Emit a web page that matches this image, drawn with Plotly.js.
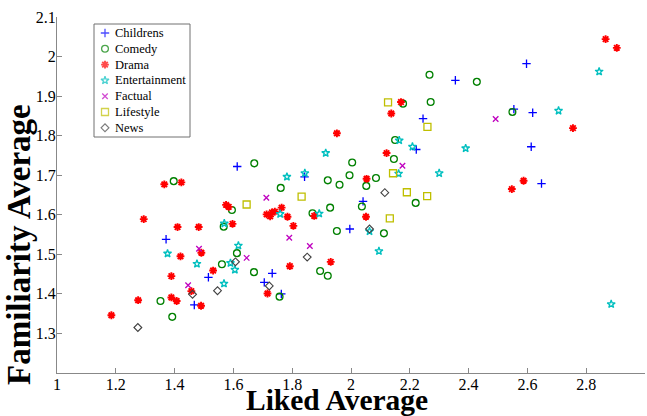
<!DOCTYPE html>
<html>
<head>
<meta charset="utf-8">
<script src="https://cdn.plot.ly/plotly-3.0.1.min.js"></script>
<style>html,body{margin:0;padding:0;background:#fff;}#chart{width:647px;height:416px;}</style>
</head>
<body>
<div id="chart"></div>
<script>
// ---- data ----
const categories = ["Childrens", "Comedy", "Drama", "Entertainment", "Factual", "Lifestyle", "News"];

const childrensX = [1.613, 1.371, 1.515, 1.467, 1.705, 1.732, 1.763, 1.842, 1.996, 2.041, 2.222, 2.245, 2.355, 2.554, 2.597, 2.618, 2.613, 2.648];
const childrensY = [1.722, 1.538, 1.442, 1.372, 1.429, 1.452, 1.400, 1.696, 1.564, 1.634, 1.765, 1.843, 1.940, 1.867, 1.982, 1.858, 1.772, 1.679];

const comedyX = [1.671, 1.397, 1.595, 1.567, 1.612, 1.561, 1.670, 1.352, 1.392, 1.757, 1.761, 1.921, 1.961, 1.995, 2.004, 2.052, 2.085, 2.037, 1.929, 1.869, 1.952, 2.112, 1.895, 1.921, 2.146, 2.150, 2.220, 2.177, 2.271, 2.267, 2.428, 2.549];
const comedyY = [1.730, 1.685, 1.612, 1.570, 1.503, 1.475, 1.455, 1.382, 1.342, 1.393, 1.668, 1.687, 1.676, 1.700, 1.732, 1.673, 1.693, 1.621, 1.618, 1.604, 1.559, 1.553, 1.458, 1.446, 1.741, 1.789, 1.630, 1.881, 1.885, 1.954, 1.936, 1.860];

const dramaX = [1.365, 1.423, 1.575, 1.584, 1.295, 1.597, 1.410, 1.482, 1.420, 1.491, 1.531, 1.389, 1.457, 1.716, 1.276, 1.389, 1.407, 1.490, 1.185, 1.713, 1.725, 1.731, 1.741, 1.764, 1.784, 1.804, 1.875, 1.792, 1.931, 1.952, 2.053, 2.051, 2.121, 2.137, 2.170, 2.547, 2.587, 2.755, 2.866, 2.904];
const dramaY = [1.677, 1.682, 1.625, 1.620, 1.589, 1.577, 1.569, 1.569, 1.495, 1.504, 1.459, 1.445, 1.407, 1.401, 1.384, 1.391, 1.382, 1.370, 1.346, 1.601, 1.596, 1.606, 1.608, 1.618, 1.595, 1.572, 1.597, 1.470, 1.481, 1.806, 1.691, 1.595, 1.756, 1.856, 1.885, 1.665, 1.686, 1.819, 2.044, 2.022];

const entertainmentX = [1.569, 1.376, 1.617, 1.476, 1.590, 1.605, 1.568, 1.759, 1.782, 1.843, 1.914, 1.892, 2.063, 2.095, 2.164, 2.209, 2.162, 2.300, 2.390, 2.706, 2.844, 2.885];
const entertainmentY = [1.578, 1.502, 1.522, 1.476, 1.478, 1.461, 1.426, 1.602, 1.696, 1.705, 1.756, 1.603, 1.558, 1.508, 1.788, 1.772, 1.704, 1.705, 1.768, 1.863, 1.962, 1.374];

const factualX = [1.483, 1.446, 1.645, 1.712, 1.790, 1.860, 2.175, 2.492];
const factualY = [1.514, 1.422, 1.491, 1.643, 1.542, 1.521, 1.724, 1.842];

const lifestyleX = [1.645, 1.832, 2.126, 2.260, 2.143, 2.190, 2.259, 2.132];
const lifestyleY = [1.626, 1.646, 1.884, 1.822, 1.705, 1.657, 1.647, 1.591];

const newsX = [1.275, 1.461, 1.546, 1.607, 1.722, 1.851, 2.063, 2.115];
const newsY = [1.315, 1.399, 1.408, 1.481, 1.420, 1.493, 1.564, 1.656];

const xTickVals = [1, 1.2, 1.4, 1.6, 1.8, 2, 2.2, 2.4, 2.6, 2.8, 3];
const xTickText = ["1", "1.2", "1.4", "1.6", "1.8", "2", "2.2", "2.4", "2.6", "2.8", "3"];
const yTickVals = [1.3, 1.4, 1.5, 1.6, 1.7, 1.8, 1.9, 2, 2.1];
const yTickText = ["1.3", "1.4", "1.5", "1.6", "1.7", "1.8", "1.9", "2", "2.1"];

const xTitle = "Liked Average";
const yTitle = "Familiarity Average";

// ---- styles ----
const serif = 'Liberation Serif, Times New Roman, serif';
const seriesX = [childrensX, comedyX, dramaX, entertainmentX, factualX, lifestyleX, newsX];
const seriesY = [childrensY, comedyY, dramaY, entertainmentY, factualY, lifestyleY, newsY];
const styles = [
  {symbol: 'cross-thin-open', color: '#0000ff', size: 6, lw: 1.3},
  {symbol: 'circle-open', color: '#008000', size: 6.8, lw: 1.3},
  {symbol: 'asterisk-open', color: '#ff0000', size: 6.5, lw: 1.9},
  {symbol: 'star-open', color: '#00bfbf', size: 6, lw: 1.3},
  {symbol: 'x-thin-open', color: '#bf00bf', size: 5.5, lw: 1.3},
  {symbol: 'square-open', color: '#bfbf00', size: 7, lw: 1.3},
  {symbol: 'diamond-open', color: '#404040', size: 6, lw: 1.1}
];

// page geometry (pixels)
const W = 647, H = 416;
const M = {l: 57, r: 2, t: 17, b: 43};
const PW = W - M.l - M.r, PH = H - M.t - M.b;
const px2paperX = p => (p - M.l) / PW;
const px2paperY = p => 1 - (p - M.t) / PH;

// legend box geometry (pixels)
const LG = {left: 94, top: 24, right: 190, bottom: 137, firstRow: 9, rowGap: 15.8, symX: 11, textX: 20};

const traces = categories.map((name, i) => ({
  type: 'scatter',
  mode: 'markers',
  name: name,
  x: seriesX[i],
  y: seriesY[i],
  xaxis: 'x', yaxis: 'y',
  showlegend: false,
  marker: {
    symbol: styles[i].symbol,
    size: styles[i].size,
    color: styles[i].color,
    line: {color: styles[i].color, width: styles[i].lw}
  }
}));

// legend keys (one row per category, placed by row index on a hidden axis)
const rowIdx = categories.map((c, i) => i);
traces.push({
  type: 'scatter',
  mode: 'markers',
  name: 'legend',
  x: categories.map(() => LG.symX),
  y: rowIdx,
  xaxis: 'x2', yaxis: 'y2',
  showlegend: false,
  hoverinfo: 'skip',
  marker: {
    symbol: styles.map(s => s.symbol),
    size: styles.map(s => s.size),
    color: styles.map(s => s.color),
    line: {color: styles.map(s => s.color), width: styles.map(s => s.lw)}
  }
});

const boxH = LG.bottom - LG.top;
const yTopVal = -LG.firstRow / LG.rowGap;
const yBotVal = (boxH - LG.firstRow) / LG.rowGap;

const annotations = categories.map((name, i) => ({
  xref: 'x2', yref: 'y2', x: LG.textX, y: i,
  text: name, showarrow: false, xanchor: 'left', yanchor: 'middle',
  font: {family: serif, size: 12.5, color: '#000000'}, borderpad: 0
}));
annotations.push({
  xref: 'paper', yref: 'paper', x: px2paperX(337), y: px2paperY(400),
  text: xTitle, showarrow: false, xanchor: 'center', yanchor: 'middle',
  font: {family: serif, size: 29.5, color: '#000000', weight: 700}
});
annotations.push({
  xref: 'paper', yref: 'paper', x: px2paperX(19), y: px2paperY(245),
  text: yTitle, showarrow: false, xanchor: 'center', yanchor: 'middle', textangle: -90,
  font: {family: serif, size: 33, color: '#000000', weight: 700}
});

const layout = {
  width: W,
  height: H,
  margin: {l: M.l, r: M.r, t: M.t, b: M.b, pad: 0},
  paper_bgcolor: '#ffffff',
  plot_bgcolor: 'rgba(0,0,0,0)',
  font: {family: serif, color: '#000000', size: 16},
  showlegend: false,
  xaxis: {
    range: [1, 3],
    tickmode: 'array',
    tickvals: xTickVals,
    ticktext: xTickText,
    ticks: 'inside',
    ticklen: 5,
    tickcolor: '#888888',
    showline: true,
    linecolor: '#888888',
    linewidth: 1,
    showgrid: false,
    zeroline: false,
    mirror: false,
    tickfont: {family: serif, size: 16, color: '#000000'},
    ticklabelstandoff: -3,
    automargin: false
  },
  yaxis: {
    range: [1.2, 2.1],
    tickmode: 'array',
    tickvals: yTickVals,
    ticktext: yTickText,
    ticks: 'inside',
    ticklen: 5,
    tickcolor: '#888888',
    showline: true,
    linecolor: '#888888',
    linewidth: 1,
    showgrid: false,
    zeroline: false,
    mirror: false,
    tickfont: {family: serif, size: 16, color: '#000000'},
    ticklabelstandoff: -3,
    automargin: false
  },
  xaxis2: {
    domain: [px2paperX(LG.left), px2paperX(LG.right)],
    range: [0, LG.right - LG.left],
    anchor: 'y2', visible: false, fixedrange: true
  },
  yaxis2: {
    domain: [px2paperY(LG.bottom), px2paperY(LG.top)],
    range: [yBotVal, yTopVal],
    anchor: 'x2', visible: false, fixedrange: true
  },
  shapes: [{
    type: 'rect', xref: 'x2 domain', yref: 'y2 domain', x0: 0, x1: 1, y0: 0, y1: 1,
    line: {color: '#707070', width: 1}, fillcolor: '#ffffff', layer: 'below'
  }],
  annotations: annotations
};

Plotly.newPlot('chart', traces, layout, {displayModeBar: false, staticPlot: true});
</script>
</body>
</html>
